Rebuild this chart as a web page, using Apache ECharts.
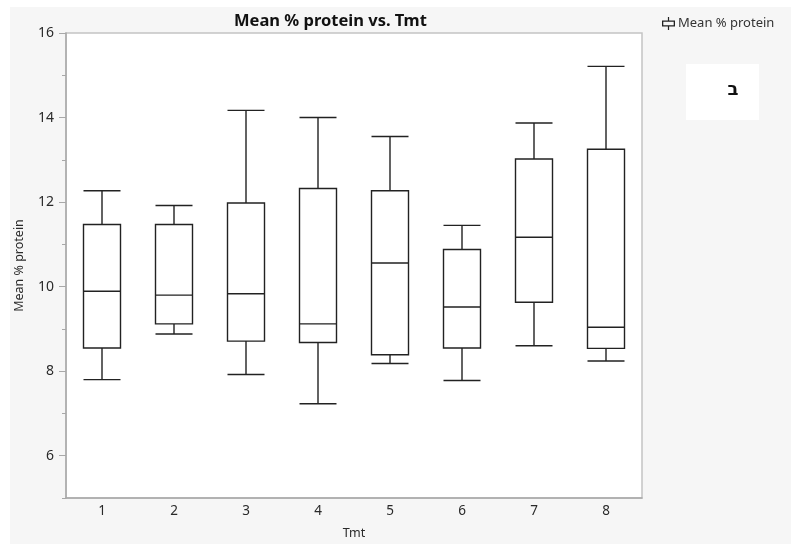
<!DOCTYPE html>
<html>
<head>
<meta charset="utf-8">
<script src="https://cdn.jsdelivr.net/npm/echarts@6/dist/echarts.min.js"></script>
<style>
html,body{margin:0;padding:0;background:#fff;}
#wrap{position:relative;width:791px;height:545px;}
#bg{position:absolute;left:10px;top:7px;width:781px;height:537px;background:#f6f6f6;}
#chart{position:absolute;left:0;top:0;width:791px;height:545px;}
</style>
</head>
<body>
<div id="wrap"><div id="bg"></div><div id="chart"></div></div>
<script>
// Data
const categories = ['1','2','3','4','5','6','7','8'];
const whiskerLow  = [7.80, 8.88, 7.92, 7.23, 8.18, 7.78, 8.60, 8.24];
const quartile1   = [8.55, 9.12, 8.71, 8.68, 8.39, 8.55, 9.63, 8.54];
const medians     = [9.89, 9.80, 9.83, 9.12, 10.56, 9.52, 11.17, 9.04];
const quartile3   = [11.47, 11.47, 11.98, 12.32, 12.27, 10.88, 13.02, 13.25];
const whiskerHigh = [12.27, 11.92, 14.17, 14.00, 13.55, 11.45, 13.87, 15.21];
const yMajorTicks = [6, 8, 10, 12, 14, 16];
const yMinorTicks = [5, 7, 9, 11, 13, 15];
const seriesName = 'Mean % protein';
const titleText = 'Mean % protein vs. Tmt';
const xName = 'Tmt';
const yName = 'Mean % protein';
const cornerLabel = 'ב';

const boxData = categories.map((c, i) => [whiskerLow[i], quartile1[i], medians[i], quartile3[i], whiskerHigh[i]]);

const chart = echarts.init(document.getElementById('chart'), null, {renderer: 'canvas'});
const axisGray = '#a8a8a8';
const textColor = '#2a2a2a';
const font = 'Noto Sans, Liberation Sans, sans-serif';

chart.setOption({
  backgroundColor: 'transparent',
  animation: false,
  textStyle: {fontFamily: font},
  title: {
    text: titleText,
    left: 229,
    top: 8,
    textStyle: {fontSize: 16.5, fontWeight: 'bold', color: '#111', fontFamily: font}
  },
  legend: {
    left: 657,
    top: 12,
    itemWidth: 13,
    itemHeight: 13,
    itemGap: 6,
    textStyle: {fontSize: 13, color: '#333', fontFamily: font, padding: [0,0,0,-2]},
    data: [{
      name: seriesName,
      icon: 'path://M0,3.5H13V9.5H0Z M1.3,4.8V8.2H11.7V4.8Z M5.9,0H7.1V3.5H5.9Z M5.9,9.5H7.1V13H5.9Z',
      itemStyle: {color: '#222', borderWidth: 0}
    }]
  },
  grid: {
    left: 66, top: 33, width: 576, height: 467,
    show: true, backgroundColor: '#ffffff', borderColor: '#c4c4c4', borderWidth: 1.5
  },
  xAxis: {
    type: 'category',
    data: categories,
    boundaryGap: true,
    name: xName,
    nameLocation: 'middle',
    nameGap: 29,
    nameTextStyle: {fontSize: 12.5, color: textColor},
    axisLine: {show: true, lineStyle: {color: axisGray, width: 1.5}},
    axisTick: {show: false},
    axisLabel: {fontSize: 13.5, color: textColor, margin: 6},
    splitLine: {show: false}
  },
  yAxis: [{
    type: 'value',
    min: 5, max: 16, interval: 1,
    name: yName,
    nameLocation: 'middle',
    nameGap: 40,
    nameRotate: 90,
    nameTextStyle: {fontSize: 12.5, color: textColor},
    axisLine: {show: true, lineStyle: {color: axisGray, width: 1.5}},
    axisTick: {show: true, length: 7, customValues: yMajorTicks, lineStyle: {color: axisGray}},
    axisLabel: {fontSize: 14, color: textColor, margin: 12, customValues: yMajorTicks},
    splitLine: {show: false}
  }, {
    type: 'value',
    position: 'left',
    offset: 0,
    min: 5, max: 16, interval: 1,
    axisLine: {show: false},
    axisTick: {show: true, length: 4, customValues: yMinorTicks, lineStyle: {color: axisGray}},
    axisLabel: {show: false},
    splitLine: {show: false}
  }],
  series: [{
    name: seriesName,
    type: 'boxplot',
    yAxisIndex: 0,
    data: boxData,
    boxWidth: [37, 37],
    itemStyle: {color: '#ffffff', borderColor: '#222', borderWidth: 1.4},
    emphasis: {disabled: true}
  }],
  graphic: [{
    type: 'group',
    left: 686, top: 64,
    children: [{
      type: 'rect',
      shape: {x: 0, y: 0, width: 73, height: 56},
      style: {fill: '#ffffff'}
    }, {
      type: 'text',
      x: 47, y: 26,
      style: {text: cornerLabel, font: 'bold 18px DejaVu Sans', fill: '#111', textAlign: 'center', textVerticalAlign: 'middle'}
    }]
  }]
});
</script>
</body>
</html>
